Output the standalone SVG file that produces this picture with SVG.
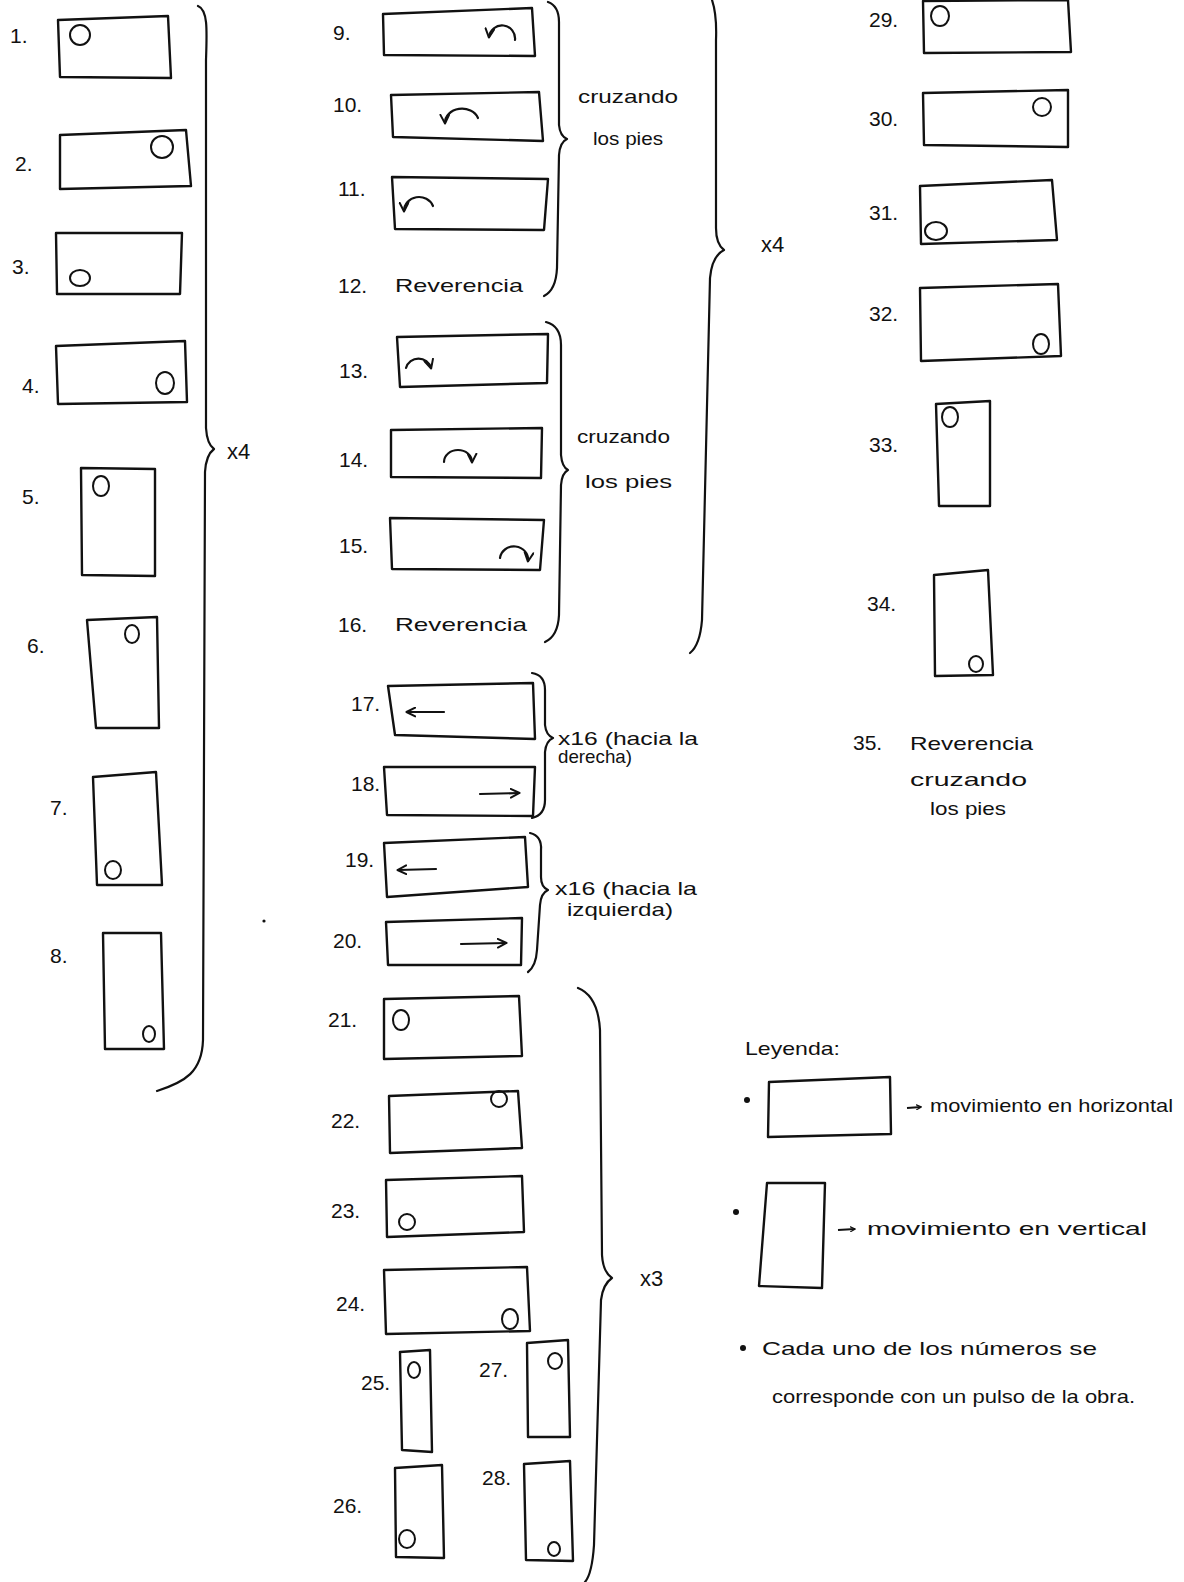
<svg xmlns="http://www.w3.org/2000/svg" width="1184" height="1582" viewBox="0 0 1184 1582">
<defs>
<marker id="ah" viewBox="0 0 10 10" refX="8.5" refY="5" markerWidth="11" markerHeight="11" markerUnits="userSpaceOnUse" orient="auto">
<path d="M1,1 L9,5 L1,9" fill="none" stroke="#111" stroke-width="1.8" stroke-linecap="round" stroke-linejoin="round"/>
</marker>
<marker id="ahs" viewBox="0 0 10 10" refX="8.5" refY="5" markerWidth="6" markerHeight="6" markerUnits="userSpaceOnUse" orient="auto">
<path d="M1,1 L9,5 L1,9" fill="none" stroke="#111" stroke-width="2" stroke-linecap="round"/>
</marker>
</defs>
<style>
.bx{fill:none;stroke:#111;stroke-width:2.4;stroke-linejoin:round}
.ci{fill:none;stroke:#111;stroke-width:2}
.ar{fill:none;stroke:#111;stroke-width:2.2;stroke-linecap:round;marker-end:url(#ah)}
.br{fill:none;stroke:#111;stroke-width:2.2;stroke-linecap:round;stroke-linejoin:round}
.t{font-family:"Liberation Sans","DejaVu Sans",sans-serif;font-size:19px;fill:#111}
.n{font-family:"Liberation Sans","DejaVu Sans",sans-serif;font-size:21px;fill:#111}
.x{font-family:"Liberation Sans","DejaVu Sans",sans-serif;font-size:22px;fill:#111}
.dot{fill:#111}
</style>
<rect width="1184" height="1582" fill="#ffffff"/>

<!-- Column 1 -->
<g id="n1"><text class="n" x="10" y="43">1.</text><polygon class="bx" points="58,20 168,16 171,78 60,77"/><circle class="ci" cx="80" cy="35" r="10"/></g>
<g id="n2"><text class="n" x="15" y="171">2.</text><polygon class="bx" points="60,135 186,130 191,186 60,189"/><circle class="ci" cx="162" cy="147" r="11"/></g>
<g id="n3"><text class="n" x="12" y="274">3.</text><polygon class="bx" points="56,233 182,233 180,294 57,294"/><ellipse class="ci" cx="80" cy="278" rx="10" ry="8"/></g>
<g id="n4"><text class="n" x="22" y="393">4.</text><polygon class="bx" points="56,346 185,341 187,402 58,404"/><ellipse class="ci" cx="165" cy="383" rx="9" ry="11"/></g>
<g id="n5"><text class="n" x="22" y="504">5.</text><polygon class="bx" points="81,468 155,469 155,576 82,575"/><ellipse class="ci" cx="101" cy="486" rx="8" ry="10"/></g>
<g id="n6"><text class="n" x="27" y="653">6.</text><polygon class="bx" points="87,620 157,617 159,728 96,728"/><ellipse class="ci" cx="132" cy="634" rx="7" ry="9"/></g>
<g id="n7"><text class="n" x="50" y="815">7.</text><polygon class="bx" points="93,777 156,772 162,885 97,885"/><ellipse class="ci" cx="113" cy="870" rx="8" ry="9"/></g>
<g id="n8"><text class="n" x="50" y="963">8.</text><polygon class="bx" points="103,933 161,933 164,1049 105,1049"/><ellipse class="ci" cx="149" cy="1034" rx="6" ry="8"/></g>

<!-- Column 2 -->
<g id="n9"><text class="n" x="333" y="40">9.</text><polygon class="bx" points="383,14 532,8 535,56 384,55"/><path class="ar" d="M515,40 A13,13 0 0 0 489,37"/></g>
<g id="n10"><text class="n" x="333" y="112">10.</text><polygon class="bx" points="391,95 539,92 543,141 393,137"/><path class="ar" d="M478,118 A17,14 0 0 0 445,123"/></g>
<g id="n11"><text class="n" x="338" y="196">11.</text><polygon class="bx" points="392,177 548,179 544,230 395,229"/><path class="ar" d="M433,206 A15,14 0 0 0 404,211"/></g>
<g id="n12"><text class="n" x="338" y="293">12.</text><text class="t" x="395" y="292" textLength="128" lengthAdjust="spacingAndGlyphs">Reverencia</text></g>
<g id="n13"><text class="n" x="339" y="378">13.</text><polygon class="bx" points="397,337 548,334 547,383 400,387"/><path class="ar" d="M406,368 A13,13 0 0 1 431,368"/></g>
<g id="n14"><text class="n" x="339" y="467">14.</text><polygon class="bx" points="391,430 542,428 541,478 391,477"/><path class="ar" d="M444,462 A14,12 0 0 1 472,462"/></g>
<g id="n15"><text class="n" x="339" y="553">15.</text><polygon class="bx" points="390,518 544,520 540,570 392,569"/><path class="ar" d="M500,558 A14,13 0 0 1 528,561"/></g>
<g id="n16"><text class="n" x="338" y="632">16.</text><text class="t" x="395" y="631" textLength="132" lengthAdjust="spacingAndGlyphs">Reverencia</text></g>
<g id="n17"><text class="n" x="351" y="711">17.</text><polygon class="bx" points="388,686 533,683 535,739 395,735"/><path class="ar" d="M444,712 L407,712"/></g>
<g id="n18"><text class="n" x="351" y="791">18.</text><polygon class="bx" points="384,767 535,767 533,816 387,815"/><path class="ar" d="M480,794 L519,793"/></g>
<g id="n19"><text class="n" x="345" y="867">19.</text><polygon class="bx" points="384,843 525,837 528,887 387,897"/><path class="ar" d="M436,869 L398,870"/></g>
<g id="n20"><text class="n" x="333" y="948">20.</text><polygon class="bx" points="386,922 522,918 521,965 388,965"/><path class="ar" d="M461,944 L506,943"/></g>
<g id="n21"><text class="n" x="328" y="1027">21.</text><polygon class="bx" points="384,999 519,996 522,1056 384,1059"/><ellipse class="ci" cx="401" cy="1020" rx="8" ry="10"/></g>
<g id="n22"><text class="n" x="331" y="1128">22.</text><polygon class="bx" points="389,1096 518,1091 522,1148 390,1153"/><ellipse class="ci" cx="499" cy="1099" rx="8" ry="8"/></g>
<g id="n23"><text class="n" x="331" y="1218">23.</text><polygon class="bx" points="386,1180 522,1176 524,1232 387,1237"/><ellipse class="ci" cx="407" cy="1222" rx="8" ry="8"/></g>
<g id="n24"><text class="n" x="336" y="1311">24.</text><polygon class="bx" points="384,1270 527,1267 530,1331 386,1334"/><ellipse class="ci" cx="510" cy="1319" rx="8" ry="10"/></g>
<g id="n25"><text class="n" x="361" y="1390">25.</text><polygon class="bx" points="400,1352 430,1350 432,1452 402,1450"/><ellipse class="ci" cx="414" cy="1370" rx="6" ry="8"/></g>
<g id="n26"><text class="n" x="333" y="1513">26.</text><polygon class="bx" points="395,1468 442,1465 444,1558 396,1557"/><ellipse class="ci" cx="407" cy="1539" rx="8" ry="9"/></g>
<g id="n27"><text class="n" x="479" y="1377">27.</text><polygon class="bx" points="527,1343 568,1340 570,1437 528,1437"/><ellipse class="ci" cx="555" cy="1361" rx="7" ry="8"/></g>
<g id="n28"><text class="n" x="482" y="1485">28.</text><polygon class="bx" points="524,1464 570,1461 573,1561 526,1560"/><ellipse class="ci" cx="554" cy="1549" rx="6" ry="7"/></g>

<!-- Column 3 -->
<g id="n29"><text class="n" x="869" y="27">29.</text><polygon class="bx" points="923,1 1068,0 1071,52 924,53"/><ellipse class="ci" cx="940" cy="16" rx="9" ry="10"/></g>
<g id="n30"><text class="n" x="869" y="126">30.</text><polygon class="bx" points="923,93 1068,90 1068,147 924,145"/><ellipse class="ci" cx="1042" cy="107" rx="9" ry="9"/></g>
<g id="n31"><text class="n" x="869" y="220">31.</text><polygon class="bx" points="920,186 1052,180 1057,240 921,244"/><ellipse class="ci" cx="936" cy="231" rx="11" ry="9"/></g>
<g id="n32"><text class="n" x="869" y="321">32.</text><polygon class="bx" points="920,288 1058,284 1061,356 921,361"/><ellipse class="ci" cx="1041" cy="344" rx="8" ry="10"/></g>
<g id="n33"><text class="n" x="869" y="452">33.</text><polygon class="bx" points="936,404 990,401 990,506 939,506"/><ellipse class="ci" cx="950" cy="417" rx="8" ry="10"/></g>
<g id="n34"><text class="n" x="867" y="611">34.</text><polygon class="bx" points="934,575 988,570 993,675 935,676"/><ellipse class="ci" cx="976" cy="664" rx="7" ry="8"/></g>
<g id="n35"><text class="n" x="853" y="750">35.</text><text class="t" x="910" y="750" textLength="123" lengthAdjust="spacingAndGlyphs">Reverencia</text><text class="t" x="910" y="786" textLength="117" lengthAdjust="spacingAndGlyphs">cruzando</text><text class="t" x="930" y="815" textLength="76" lengthAdjust="spacingAndGlyphs">los pies</text></g>

<!-- Brace labels -->
<g id="labels">
<text class="x" x="227" y="459">x4</text>
<text class="x" x="761" y="252">x4</text>
<text class="x" x="640" y="1286">x3</text>
<text class="t" x="578" y="103" textLength="100" lengthAdjust="spacingAndGlyphs">cruzando</text>
<text class="t" x="593" y="145" textLength="70" lengthAdjust="spacingAndGlyphs">los pies</text>
<text class="t" x="577" y="443" textLength="93" lengthAdjust="spacingAndGlyphs">cruzando</text>
<text class="t" x="585" y="488" textLength="87" lengthAdjust="spacingAndGlyphs">los pies</text>
<text class="t" x="558" y="745" textLength="140" lengthAdjust="spacingAndGlyphs">x16 (hacia la</text>
<text class="t" x="558" y="763" textLength="74" lengthAdjust="spacingAndGlyphs">derecha)</text>
<text class="t" x="555" y="895" textLength="142" lengthAdjust="spacingAndGlyphs">x16 (hacia la</text>
<text class="t" x="567" y="916" textLength="106" lengthAdjust="spacingAndGlyphs">izquierda)</text>
</g>

<!-- Braces -->
<g id="connectors">
<path class="br" d="M198,6 C208,10 207,30 206,60 L206,428 Q207,444 214,449 Q206,455 205,472 L203,1040 C202,1072 185,1082 157,1091"/>
<path class="br" d="M548,2 Q559,6 559,22 L559,125 Q560,136 567,139 Q560,142 559,155 L557,268 Q556,290 544,296"/>
<path class="br" d="M546,322 Q561,326 561,345 L561,455 Q562,467 568,470 Q562,473 561,485 L559,615 Q558,636 545,642"/>
<path class="br" d="M712,0 Q717,15 716,40 L716,228 Q716,244 724,250 Q712,256 710,278 L702,620 Q700,645 690,653"/>
<path class="br" d="M532,673 Q545,675 545,690 L545,725 Q546,735 553,738 Q546,741 545,752 L545,800 Q545,815 532,818"/>
<path class="br" d="M530,833 Q542,836 541,850 L541,877 Q541,887 548,890 Q541,893 540,905 L537,950 Q536,966 528,972"/>
<path class="br" d="M578,988 Q598,996 600,1030 L602,1255 Q603,1272 612,1278 Q603,1284 601,1300 L594,1545 Q592,1574 585,1582"/>
</g>

<circle class="dot" cx="264" cy="921" r="1.6"/>

<!-- Legend -->
<g id="legend">
<text class="t" x="745" y="1055" textLength="95" lengthAdjust="spacingAndGlyphs">Leyenda:</text>
<g id="leg-h">
<circle class="dot" cx="747" cy="1100" r="3"/>
<polygon class="bx" points="769,1082 890,1077 891,1134 768,1137"/>
<path d="M907,1108 L921,1107" fill="none" stroke="#111" stroke-width="1.8" marker-end="url(#ahs)"/>
<text class="t" x="930" y="1112" textLength="243" lengthAdjust="spacingAndGlyphs">movimiento en horizontal</text>
</g>
<g id="leg-v">
<circle class="dot" cx="736" cy="1212" r="3"/>
<polygon class="bx" points="767,1183 825,1183 822,1288 759,1286"/>
<path d="M838,1230 L855,1229" fill="none" stroke="#111" stroke-width="1.8" marker-end="url(#ahs)"/>
<text class="t" x="867" y="1235" textLength="280" lengthAdjust="spacingAndGlyphs">movimiento en vertical</text>
</g>
<g id="leg-note">
<circle class="dot" cx="743" cy="1348" r="3"/>
<text class="t" x="762" y="1355" textLength="335" lengthAdjust="spacingAndGlyphs">Cada uno de los números se</text>
<text class="t" x="772" y="1403" textLength="363" lengthAdjust="spacingAndGlyphs">corresponde con un pulso de la obra.</text>
</g>
</g>
</svg>
